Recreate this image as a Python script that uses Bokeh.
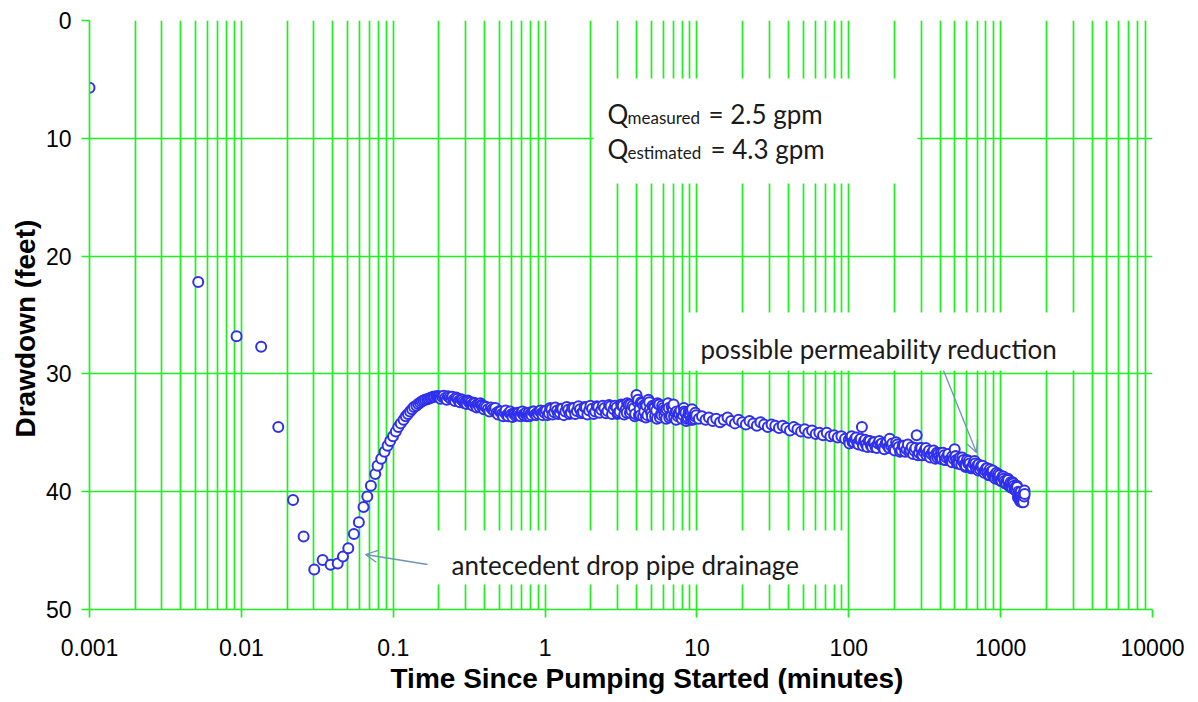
from bokeh.plotting import figure
from bokeh.models import Range1d, FixedTicker, Label, Arrow, OpenHead, Title
from bokeh.embed import file_html
from bokeh.resources import INLINE

# ---------------- data ----------------
t_early = [0.001, 0.0052, 0.0093, 0.0135, 0.0175, 0.0219, 0.0257, 0.0302, 0.0343, 0.0387,
           0.0431, 0.0467, 0.0506, 0.0551, 0.0594, 0.0638, 0.0675, 0.0713, 0.0762, 0.0789,
           0.0834, 0.0877, 0.0918, 0.0955]
d_early = [5.7, 22.2, 26.8, 27.7, 34.5, 40.7, 43.8, 46.6, 45.8, 46.2,
           46.1, 45.5, 44.8, 43.6, 42.6, 41.3, 40.4, 39.5, 38.5, 37.8,
           37.2, 36.6, 36.1, 35.7]

t_rise = [0.0997, 0.104, 0.108, 0.112, 0.117, 0.121, 0.125, 0.129, 0.133, 0.137,
          0.142, 0.146, 0.150, 0.154, 0.158, 0.162, 0.167, 0.171, 0.175, 0.179,
          0.183, 0.187, 0.192, 0.196, 0.200, 0.204]
d_rise = [35.3, 34.9, 34.5, 34.2, 33.9, 33.6, 33.4, 33.2, 33.0, 32.8,
          32.7, 32.55, 32.45, 32.35, 32.25, 32.2, 32.15, 32.1, 32.05, 32.0,
          31.95, 31.95, 31.9, 31.9, 31.9, 31.95]

t_peak = [0.21, 0.22, 0.23, 0.24, 0.25, 0.26, 0.27, 0.28, 0.29, 0.30, 0.31, 0.32, 0.33,
          0.34, 0.35, 0.36, 0.37, 0.38, 0.39, 0.40, 0.42, 0.44, 0.46, 0.48, 0.50, 0.52,
          0.54, 0.56, 0.58, 0.60, 0.62, 0.64, 0.66, 0.68, 0.70, 0.72, 0.74, 0.76, 0.78,
          0.80, 0.83, 0.86, 0.89, 0.92, 0.95, 0.98]
d_peak = [31.95, 32.05, 31.9, 32.1, 32.2, 32.0, 32.3, 32.15, 32.35, 32.4, 32.25, 32.5, 32.6,
          32.45, 32.7, 32.55, 32.8, 32.65, 32.9, 32.75, 33.0, 32.85, 33.1, 33.3, 33.15, 33.4,
          33.25, 33.5, 33.3, 33.45, 33.35, 33.55, 33.3, 33.5, 33.25, 33.45, 33.35, 33.6, 33.3,
          33.4, 33.2, 33.45, 33.3, 33.15, 33.35, 33.2]

t_peak2 = [0.205, 0.215, 0.225, 0.235, 0.245, 0.255, 0.265, 0.275, 0.285, 0.295,
           0.305, 0.315, 0.325, 0.335, 0.345, 0.355, 0.365, 0.375, 0.385, 0.395,
           0.41, 0.43, 0.45, 0.47, 0.49, 0.51, 0.53, 0.55, 0.57, 0.59,
           0.61, 0.63, 0.65, 0.67, 0.69, 0.71, 0.73, 0.75, 0.77, 0.79,
           0.815, 0.845, 0.875, 0.905, 0.935, 0.965, 0.995]
d_peak2 = [32.1, 31.85, 32.2, 32.0, 31.95, 32.3, 32.1, 32.4, 32.2, 32.5,
           32.55, 32.35, 32.4, 32.7, 32.5, 32.85, 32.6, 32.5, 32.7, 33.0,
           32.8, 33.2, 33.0, 32.9, 33.45, 33.2, 33.6, 33.1, 33.6, 33.2,
           33.65, 33.4, 33.45, 33.3, 33.6, 33.2, 33.55, 33.3, 33.45, 33.6,
           33.5, 33.2, 33.5, 33.4, 33.1, 33.5, 33.3]

t_mid = [1.02, 1.06, 1.1, 1.15, 1.2, 1.25, 1.3, 1.36, 1.42, 1.48, 1.55, 1.62, 1.7, 1.78,
         1.86, 1.95, 2.04, 2.14, 2.24, 2.35, 2.46, 2.58, 2.7, 2.83, 2.96, 3.1, 3.25, 3.4,
         3.55, 3.7, 3.85, 4.0, 4.1, 4.2, 4.35, 4.5, 4.65, 4.8, 5.0, 5.2, 5.4, 5.6, 5.8, 6.0,
         6.2, 6.45, 6.7, 6.95, 7.2, 7.5, 7.8, 8.1, 8.4, 8.7, 9.0, 9.3, 9.6, 9.9]
d_mid = [33.1, 33.35, 33.0, 33.25, 33.1, 33.3, 32.95, 33.2, 33.05, 33.3, 32.9, 33.15, 33.0, 33.25,
         32.85, 33.1, 32.95, 33.2, 32.8, 33.05, 32.9, 33.15, 32.75, 33.0, 32.85, 33.2, 32.7, 33.0,
         32.6, 33.1, 32.9, 31.8, 32.2, 33.0, 32.5, 33.2, 32.7, 32.2, 33.3, 32.8, 33.1, 32.6, 33.4, 32.9,
         33.2, 32.5, 33.5, 33.0, 33.3, 33.6, 33.1, 33.5, 33.3, 33.7, 33.4, 33.0, 33.8, 33.5]

t_mid2 = [1.04, 1.08, 1.12, 1.17, 1.22, 1.27, 1.33, 1.39, 1.45, 1.51,
          1.58, 1.66, 1.74, 1.82, 1.9, 1.99, 2.09, 2.19, 2.29, 2.4,
          2.52, 2.64, 2.76, 2.89, 3.03, 3.17, 3.32, 3.47, 3.62, 3.77,
          3.92, 4.05, 4.15, 4.28, 4.42, 4.57, 4.72, 4.9, 5.1, 5.3,
          5.5, 5.7, 5.9, 6.1, 6.32, 6.57, 6.82, 7.07, 7.35, 7.65,
          7.95, 8.25, 8.55, 8.85, 9.15, 9.45, 9.75]
d_mid2 = [33.5, 32.9, 33.45, 32.85, 33.4, 32.95, 33.5, 32.8, 33.4, 32.9,
          33.4, 32.75, 33.35, 32.8, 33.45, 32.7, 33.4, 32.75, 33.3, 32.7,
          33.35, 32.65, 33.4, 32.7, 33.3, 32.6, 33.45, 32.5, 33.3, 32.7,
          33.4, 32.3, 33.5, 32.4, 33.6, 32.6, 33.5, 33.0, 32.7, 33.6,
          32.5, 33.7, 32.7, 33.5, 33.0, 33.7, 32.8, 33.6, 33.2, 33.4,
          33.8, 33.2, 33.8, 33.2, 33.9, 33.6, 33.3]

t_mid3 = [3.0, 3.2, 3.45, 3.65, 3.9, 4.08, 4.25, 4.45, 4.62, 4.85,
          5.05, 5.25, 5.45, 5.65, 5.85, 6.05, 6.27, 6.52, 6.77, 7.02,
          7.3, 7.6, 7.9, 8.2, 8.5, 8.8, 9.1, 9.4, 9.7]
d_mid3 = [33.4, 32.7, 33.3, 32.6, 33.6, 32.4, 33.5, 32.7, 33.7, 32.4,
          33.6, 32.9, 33.8, 32.6, 33.5, 33.1, 33.8, 32.9, 33.6, 32.6,
          33.9, 33.3, 33.7, 32.9, 34.0, 33.4, 33.1, 33.9, 33.6]

t_late = [10.3, 10.8, 11.4, 12, 12.7, 13.4, 14.2, 15, 15.9, 16.8, 17.8, 18.8, 19.9, 21,
          22.2, 23.5, 24.8, 26.2, 27.7, 29.3, 31, 32.8, 34.7, 36.7, 38.8, 41, 43.4, 45.9,
          48.5, 51.3, 54.2, 57.3, 60.6, 64, 67.7, 71.6, 75.7, 80, 84.6, 89.4, 94.5, 99.9]
d_late = [33.8, 33.6, 33.9, 33.7, 34.0, 33.8, 34.1, 33.9, 33.7, 34.0, 34.2, 33.9, 34.1, 34.3,
          34.0, 34.2, 34.4, 34.1, 34.3, 34.5, 34.3, 34.4, 34.6, 34.4, 34.6, 34.8, 34.5, 34.7,
          34.9, 34.7, 35.0, 34.8, 35.1, 35.0, 35.2, 35.0, 35.3, 35.2, 35.4, 35.3, 35.5, 35.6]

t_end = [103, 106, 110, 114, 118, 122, 126, 130, 135, 140, 145, 150, 156, 162, 168, 175,
         182, 186, 190, 197, 205, 213, 222, 231, 240, 250, 260, 270, 280, 290, 300, 312,
         325, 338, 350, 365, 380, 395, 410, 425, 440, 460, 480, 498, 510, 520, 540, 560,
         580, 600, 625, 650, 674, 700, 730, 760, 790, 820, 850, 880, 910, 940, 970, 1000,
         1030, 1060, 1090, 1120, 1150, 1180, 1210, 1240, 1270, 1300, 1320, 1340, 1360, 1380,
         1400, 1420, 1440]
d_end = [35.4, 35.8, 35.5, 35.9, 35.6, 34.5, 35.7, 36.0, 35.7, 36.1, 35.8, 36.2, 35.9, 36.0,
         36.3, 35.9, 36.2, 35.5, 36.1, 36.4, 35.8, 36.2, 36.5, 36.1, 36.4, 36.6, 36.2, 36.5,
         35.2, 36.7, 36.3, 36.6, 36.9, 36.5, 36.8, 37.0, 36.7, 37.0, 37.2, 36.9, 37.1, 37.3,
         37.0, 36.4, 37.3, 37.5, 37.1, 37.4, 37.7, 37.3, 37.6, 37.9, 37.4, 37.8, 38.1, 37.8,
         38.2, 38.4, 38.1, 38.5, 38.7, 38.4, 38.8, 39.0, 38.7, 39.1, 39.3, 39.0, 39.4, 39.6,
         39.3, 39.7, 39.9, 40.5, 40.2, 40.8, 40.4, 40.9, 40.6, 40.1, 40.2]

t_end2 = [101, 104.5, 108, 112, 116, 120, 124, 128, 132.5, 137.5,
          142.5, 147.5, 153, 159, 165, 171.5, 178.5, 185, 193.5, 201,
          209, 217.5, 226.5, 235.5, 245, 255, 265, 275, 285, 295,
          306, 318, 331, 344, 357, 372, 387, 402, 417, 432,
          450, 470, 489, 505, 515, 530, 550, 570, 590, 612,
          637, 662, 687, 715, 745, 775, 805, 835, 865, 895,
          925, 955, 985, 1015, 1045, 1075, 1105, 1135, 1165, 1195,
          1225, 1255, 1285, 1310, 1330, 1350, 1370, 1390, 1410, 1430]
d_end2 = [35.9, 35.3, 35.8, 35.4, 36.0, 35.5, 36.1, 35.6, 36.2, 35.7,
          36.2, 35.8, 36.3, 35.7, 35.9, 36.4, 35.8, 36.3, 35.9, 36.5,
          36.0, 36.6, 36.1, 36.6, 36.0, 36.5, 36.8, 36.3, 36.9, 36.3,
          36.9, 36.4, 36.7, 37.1, 36.6, 37.2, 36.8, 37.2, 36.7, 37.3,
          36.9, 37.4, 37.2, 37.0, 37.6, 37.2, 37.7, 37.3, 37.8, 37.6,
          38.0, 37.6, 38.0, 37.7, 37.9, 38.3, 38.0, 38.6, 38.3, 38.7,
          38.5, 38.9, 38.6, 39.1, 38.9, 39.3, 39.0, 39.5, 39.2, 39.7,
          39.5, 39.9, 39.6, 40.0, 40.6, 40.3, 40.7, 40.5, 40.9, 40.4]

t_end3 = [303, 322, 342, 362, 383, 405, 428, 453, 478, 503,
          530, 558, 588, 618, 648, 680, 712, 745, 780, 815,
          850, 888, 925, 963, 1002, 1040, 1080, 1118, 1158, 1198,
          1238, 1278, 1318, 1358, 1398, 1435]
d_end3 = [36.9, 36.3, 37.0, 36.5, 37.1, 36.7, 37.3, 36.8, 37.5, 37.0,
          37.6, 37.1, 37.9, 37.4, 38.0, 37.6, 38.2, 37.8, 38.4, 38.0,
          38.6, 38.2, 38.9, 38.5, 39.1, 38.7, 39.3, 38.9, 39.6, 39.2,
          39.8, 39.5, 40.3, 40.0, 40.8, 39.9]

x_ticks = [0.001, 0.01, 0.1, 1, 10, 100, 1000, 10000]
x_tick_labels = ["0.001", "0.01", "0.1", "1", "10", "100", "1000", "10000"]
y_ticks = [0, 10, 20, 30, 40, 50]
x_title = "Time Since Pumping Started (minutes)"
y_title = "Drawdown (feet)"

# all readings, plotted in time order (later readings drawn on top)
all_t = t_early + t_rise + t_peak + t_peak2 + t_mid + t_mid2 + t_mid3 + t_late + t_end + t_end2 + t_end3
all_d = d_early + d_rise + d_peak + d_peak2 + d_mid + d_mid2 + d_mid3 + d_late + d_end + d_end2 + d_end3
pairs = sorted(zip(all_t, all_d))
time_min = [a for a, b in pairs]
drawdown = [b for a, b in pairs]

# ---------------- styling ----------------
GREEN = "#1ef01e"
BLUE = "#2f2fee"
ARROW = "#6d93b8"
TXT = "#1a1a1a"
NOTE_FONT = "Lato"

# frame mapping (page pixels) used only to place the annotations
FX0, FX1, FY0, FY1 = 89.0, 1152.0, 20.0, 609.0


def ax(px):
    return 10 ** (-3 + 7 * (px - FX0) / (FX1 - FX0))


def ay(py):
    return 50 * (py - FY0) / (FY1 - FY0)


p = figure(width=1190, height=702, x_axis_type="log",
           x_range=Range1d(0.001, 10000), y_range=Range1d(50, 0),
           output_backend="svg", toolbar_location=None,
           min_border_left=89, min_border_right=38, min_border_top=20, min_border_bottom=93)
p.outline_line_color = None
p.background_fill_color = "white"

minor = [m * 10.0 ** e for e in range(-3, 4) for m in range(2, 10)]
p.xaxis.ticker = FixedTicker(ticks=x_ticks, minor_ticks=minor)
p.xaxis.major_label_overrides = {v: s for v, s in zip(x_ticks, x_tick_labels)}
p.yaxis.ticker = FixedTicker(ticks=y_ticks)

p.xgrid.grid_line_color = GREEN
p.xgrid.grid_line_width = 1.7
p.xgrid.minor_grid_line_color = GREEN
p.xgrid.minor_grid_line_width = 1.7
p.ygrid.grid_line_color = GREEN
p.ygrid.grid_line_width = 1.7

for a in (p.xaxis[0], p.yaxis[0]):
    a.axis_line_color = GREEN
    a.axis_line_width = 1.7
    a.major_tick_line_color = GREEN
    a.major_tick_line_width = 1.7
    a.major_tick_in = 0
    a.major_tick_out = 8
    a.minor_tick_line_color = None
    a.major_label_text_font = "Liberation Sans"
    a.major_label_text_font_size = "23px"
    a.major_label_text_color = "black"

p.xaxis.major_label_standoff = 21
p.yaxis.major_label_standoff = 10

# axis titles, placed slightly off-centre as in the original
p.add_layout(Title(text=x_title, align="left", offset=301, standoff=5,
                   text_font="Liberation Sans", text_font_style="bold",
                   text_font_size="28px", text_color="black"), "below")
p.add_layout(Title(text=y_title, align="left", offset=172, standoff=4,
                   text_font="Liberation Sans", text_font_style="bold",
                   text_font_size="28px", text_color="black"), "left")

# white note boxes (hide the grid behind the notes)
p.quad(left=[ax(593), ax(686), ax(420)], right=[ax(917), ax(1085), ax(843)],
       top=[ay(78), ay(312), ay(530)], bottom=[ay(183), ay(370), ay(584)],
       fill_color="white", line_color=None)

p.scatter(time_min, drawdown, marker="circle", size=10, fill_color="white",
          line_color=BLUE, line_width=2)


def note(px, py, text, size):
    p.add_layout(Label(x=ax(px), y=ay(py), text=text, text_font=NOTE_FONT,
                       text_font_size=size, text_color=TXT, text_align="left",
                       text_baseline="alphabetic"))


note(607, 113, "Q", "26px")
note(627, 117, "measured", "17px")
note(708, 113, "= 2.5 gpm", "26px")
note(607, 148, "Q", "26px")
note(627, 152, "estimated", "17px")
note(710, 148, "= 4.3 gpm", "26px")
note(700, 348, "possible permeability reduction", "26px")
note(451, 564, "antecedent drop pipe drainage", "26px")

p.add_layout(Arrow(end=OpenHead(size=12, line_color=ARROW, line_width=1.3),
                   x_start=ax(427), y_start=ay(564), x_end=ax(365), y_end=ay(554),
                   line_color=ARROW, line_width=1.3))
p.add_layout(Arrow(end=OpenHead(size=12, line_color=ARROW, line_width=1.3),
                   x_start=ax(943), y_start=ay(370), x_end=ax(976), y_end=ay(452),
                   line_color=ARROW, line_width=1.3))

open("out.html", "w").write(file_html(p, INLINE))
